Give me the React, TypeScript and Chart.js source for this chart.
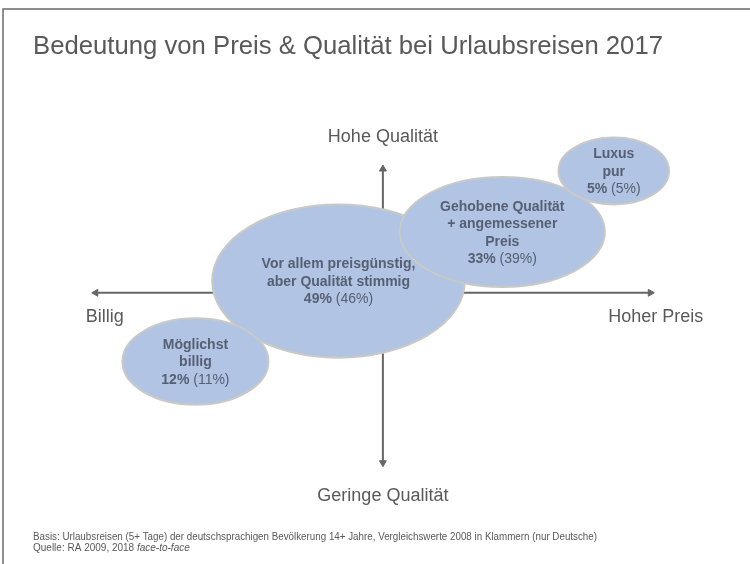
import React, { useEffect, useRef } from 'react';
import { Chart, registerables } from 'chart.js';

Chart.register(...registerables);

// ---------- data ----------
const titleText = 'Bedeutung von Preis & Qualität bei Urlaubsreisen 2017';
const footnoteLine1 = 'Basis: Urlaubsreisen (5+ Tage) der deutschsprachigen Bevölkerung 14+ Jahre, Vergleichswerte 2008 in Klammern (nur Deutsche)';
const footnoteLine2 = 'Quelle: RA 2009, 2018 ';
const footnoteLine2Italic = 'face-to-face';

const segmentLines: string[][] = [
  ['Vor allem preisgünstig,', 'aber Qualität stimmig'],
  ['Gehobene Qualität', '+ angemessener', 'Preis'],
  ['Möglichst', 'billig'],
  ['Luxus', 'pur'],
];
const share2018 = [49, 33, 12, 5];
const share2008 = [46, 39, 11, 5];
// position on price axis (x) and quality axis (y), index units
const priceX = [-45, 121, -190, 234];
const qualityY = [12, 62, -70, 124];
// spread of each segment along the axes (half extents)
const spreadX = [128, 104, 74, 56];
const spreadY = [78, 56, 44, 34];

const axisLabelTop = 'Hohe Qualität';
const axisLabelBottom = 'Geringe Qualität';
const axisLabelLeft = 'Billig';
const axisLabelRight = 'Hoher Preis';
const priceAxisEnds = [-291, 271];
const qualityAxisEnds = [-173, 126];

const X_MIN = -383;
const X_MAX = 367;
const Y_MIN = -271;
const Y_MAX = 293;

const FONT = '"Liberation Sans", Arial, Helvetica, sans-serif';
const TEXT_GRAY = '#595959';
const LABEL_COLOR = '#566072';
const AXIS_COLOR = '#666666';

const bubblePlugin = {
  id: 'segmentEllipses',
  beforeDraw(chart: any) {
    const ctx = chart.ctx;
    ctx.save();
    ctx.fillStyle = '#ffffff';
    ctx.fillRect(0, 0, chart.width, chart.height);
    ctx.strokeStyle = '#6b6b6b';
    ctx.lineWidth = 1.5;
    ctx.beginPath();
    ctx.moveTo(3, chart.height);
    ctx.lineTo(3, 9);
    ctx.lineTo(chart.width, 9);
    ctx.stroke();
    ctx.restore();
  },
  afterDatasetsDraw(chart: any) {
    const ctx = chart.ctx;
    const xs = chart.scales.x;
    const ys = chart.scales.y;
    const ds = chart.data.datasets[0];
    ctx.save();
    ds.data.forEach((d: any, i: number) => {
      const cx = xs.getPixelForValue(d.x);
      const cy = ys.getPixelForValue(d.y);
      const rx = Math.abs(xs.getPixelForValue(d.x + d.rx) - cx);
      const ry = Math.abs(ys.getPixelForValue(d.y + d.ry) - cy);
      ctx.beginPath();
      ctx.ellipse(cx, cy, rx, ry, 0, 0, Math.PI * 2);
      ctx.fillStyle = '#b1c4e4';
      ctx.fill();
      ctx.lineWidth = 2;
      ctx.strokeStyle = '#c9c9c6';
      ctx.stroke();

      const lines = segmentLines[i];
      const total = lines.length + 1;
      const lh = 17.5;
      const startY = cy + 1 - ((total - 1) * lh) / 2;
      ctx.fillStyle = LABEL_COLOR;
      ctx.textBaseline = 'middle';
      ctx.textAlign = 'center';
      ctx.font = `bold 14px ${FONT}`;
      lines.forEach((ln, k) => {
        ctx.fillText(ln, cx, startY + k * lh);
      });
      const py = startY + lines.length * lh;
      const boldPart = `${share2018[i]}%`;
      const regPart = ` (${share2008[i]}%)`;
      ctx.font = `bold 14px ${FONT}`;
      const wb = ctx.measureText(boldPart).width;
      ctx.font = `14px ${FONT}`;
      const wr = ctx.measureText(regPart).width;
      const left = cx - (wb + wr) / 2;
      ctx.textAlign = 'left';
      ctx.font = `bold 14px ${FONT}`;
      ctx.fillText(boldPart, left, py);
      ctx.font = `14px ${FONT}`;
      ctx.fillText(regPart, left + wb, py);
    });
    ctx.restore();
  },
  afterDraw(chart: any) {
    const ctx = chart.ctx;
    const xs = chart.scales.x;
    const ys = chart.scales.y;
    const x0 = xs.getPixelForValue(0);
    const y0 = ys.getPixelForValue(0);
    ctx.save();
    ctx.fillStyle = TEXT_GRAY;
    ctx.textBaseline = 'middle';
    // title
    ctx.textAlign = 'left';
    ctx.font = `26px ${FONT}`;
    ctx.fillText(titleText, 33, 47, 630);
    // axis labels
    ctx.font = `18px ${FONT}`;
    ctx.textAlign = 'center';
    ctx.fillText(axisLabelTop, x0, ys.getPixelForValue(qualityAxisEnds[1]) - 32);
    ctx.fillText(axisLabelBottom, x0, ys.getPixelForValue(qualityAxisEnds[0]) + 33);
    ctx.textAlign = 'left';
    ctx.fillText(axisLabelLeft, xs.getPixelForValue(priceAxisEnds[0]) - 10, y0 + 24);
    ctx.textAlign = 'right';
    ctx.fillText(axisLabelRight, xs.getPixelForValue(priceAxisEnds[1]) + 53, y0 + 24);
    // footnote
    ctx.textAlign = 'left';
    ctx.font = `10px ${FONT}`;
    ctx.fillText(footnoteLine1, 33, 537, 564);
    const w2 = ctx.measureText(footnoteLine2).width;
    ctx.fillText(footnoteLine2, 33, 548);
    ctx.font = `italic 10px ${FONT}`;
    ctx.fillText(footnoteLine2Italic, 33 + w2, 548);
    ctx.restore();
  },
};

export default function App() {
  const ref = useRef<HTMLCanvasElement | null>(null);
  useEffect(() => {
    document.body.style.margin = '0';
    if (!ref.current) return;
    const ellipseData = priceX.map((x, i) => ({
      x,
      y: qualityY[i],
      rx: spreadX[i],
      ry: spreadY[i],
    }));
    const chart = new Chart(ref.current, {
      type: 'scatter',
      data: {
        datasets: [
          {
            label: 'Segmente',
            data: ellipseData as any,
            pointRadius: 0,
            pointHoverRadius: 0,
            showLine: false,
          },
          {
            label: 'Preis',
            data: priceAxisEnds.map((x) => ({ x, y: 0 })),
            showLine: true,
            borderColor: AXIS_COLOR,
            borderWidth: 2,
            pointStyle: 'triangle',
            pointRadius: 4,
            pointRotation: [-90, 90] as any,
            pointBackgroundColor: AXIS_COLOR,
            pointBorderColor: AXIS_COLOR,
            pointBorderWidth: 1,
          },
          {
            label: 'Qualität',
            data: qualityAxisEnds.map((y) => ({ x: 0, y })),
            showLine: true,
            borderColor: AXIS_COLOR,
            borderWidth: 2,
            pointStyle: 'triangle',
            pointRadius: 4,
            pointRotation: [180, 0] as any,
            pointBackgroundColor: AXIS_COLOR,
            pointBorderColor: AXIS_COLOR,
            pointBorderWidth: 1,
          },
        ],
      },
      options: {
        animation: false,
        responsive: false,
        devicePixelRatio: 1,
        layout: { padding: 0 },
        events: [],
        plugins: {
          legend: { display: false },
          tooltip: { enabled: false },
          title: { display: false },
        },
        scales: {
          x: { type: 'linear', display: false, min: X_MIN, max: X_MAX },
          y: { type: 'linear', display: false, min: Y_MIN, max: Y_MAX },
        },
      },
      plugins: [bubblePlugin],
    });
    return () => chart.destroy();
  }, []);
  return (
    <div style={{ width: 750, height: 564, position: 'relative' }}>
      <canvas ref={ref} width={750} height={564} style={{ display: 'block', width: 750, height: 564 }} />
    </div>
  );
}
